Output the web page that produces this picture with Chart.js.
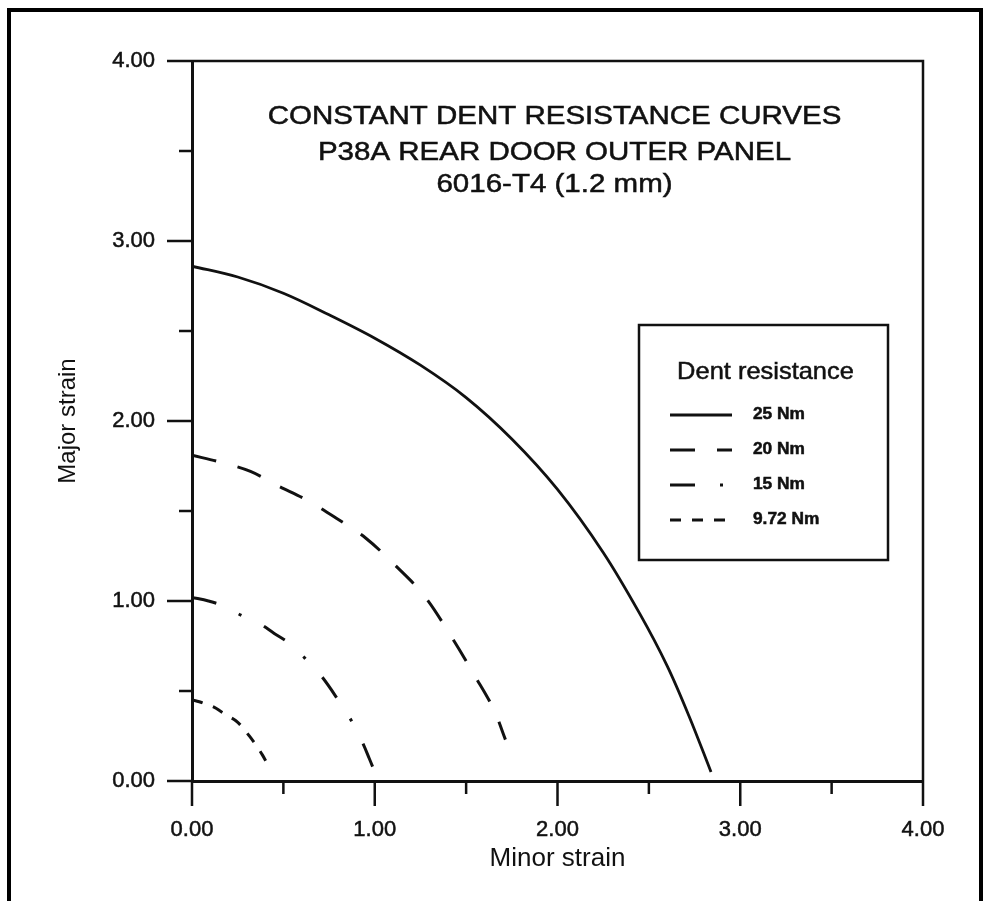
<!DOCTYPE html>
<html>
<head>
<meta charset="utf-8">
<script src="https://cdn.jsdelivr.net/npm/chart.js@4.4.1/dist/chart.umd.min.js"></script>
<style>
html, body { margin: 0; padding: 0; background: #fff; }
#wrap { position: relative; width: 992px; height: 901px; overflow: hidden; }
#frame { position: absolute; left: 7px; top: 8px; width: 968px; height: 940px; border: 4px solid #000; pointer-events: none; }
canvas { position: absolute; left: 0; top: 0; }
</style>
</head>
<body>
<div id="wrap">
  <canvas id="dentChart" width="992" height="901"></canvas>
  <div id="frame"></div>
</div>
<script>
// values (minor strain -> major strain)
var titleLines = ['CONSTANT DENT RESISTANCE CURVES', 'P38A REAR DOOR OUTER PANEL', '6016-T4 (1.2 mm)'];
var legendTitle = 'Dent resistance';
var seriesLabels = ['25 Nm', '20 Nm', '15 Nm', '9.72 Nm'];

var minor25 = [0, 0.25, 0.5, 0.75, 1.0, 1.25, 1.5, 1.75, 2.0, 2.25, 2.45, 2.6, 2.72, 2.84];
var major25 = [2.86, 2.80, 2.71, 2.59, 2.46, 2.31, 2.13, 1.90, 1.62, 1.27, 0.93, 0.64, 0.36, 0.05];

var minor20 = [0, 0.16, 0.32, 0.47, 0.63, 0.79, 0.95, 1.11, 1.27, 1.42, 1.55, 1.65, 1.715];
var major20 = [1.81, 1.77, 1.72, 1.64, 1.56, 1.46, 1.35, 1.20, 1.03, 0.80, 0.58, 0.40, 0.23];

var minor15 = [0, 0.09, 0.18, 0.27, 0.36, 0.45, 0.54, 0.62, 0.71, 0.80, 0.875, 0.93, 0.97, 1.0];
var major15 = [1.02, 1.0, 0.97, 0.92, 0.88, 0.82, 0.76, 0.68, 0.58, 0.45, 0.33, 0.22, 0.125, 0.05];

var minor9 = [0, 0.04, 0.08, 0.12, 0.16, 0.20, 0.24, 0.275, 0.31, 0.35, 0.385, 0.41];
var major9 = [0.45, 0.44, 0.425, 0.41, 0.385, 0.36, 0.335, 0.30, 0.255, 0.20, 0.145, 0.10];

var axisMin = 0, axisMax = 4, majorStep = 1, minorStep = 0.5;

function pts(xs, ys) {
    return xs.map(function (x, i) { return { x: x, y: ys[i] }; });
}

var ink = '#111';
var sansFont = "'Liberation Sans', Arial, Helvetica, sans-serif";

// scanned lettering is a bit wider and heavier than a clean font
function stretchText(ctx, text, x, y, sx, align) {
    ctx.save();
    ctx.translate(x, y);
    ctx.scale(sx, 1);
    ctx.textAlign = align;
    ctx.lineWidth = 0.5;
    ctx.fillText(text, 0, 0);
    ctx.strokeText(text, 0, 0);
    ctx.restore();
}

var decorPlugin = {
    id: 'decor',
    afterDraw: function (chart) {
        var ctx = chart.ctx;
        var a = chart.chartArea;
        var xs = chart.scales.x, ys = chart.scales.y;
        ctx.save();
        ctx.strokeStyle = ink;
        ctx.fillStyle = ink;

        // top and right edges of the plot box
        ctx.lineWidth = 2.5;
        ctx.beginPath();
        ctx.moveTo(a.left, a.top);
        ctx.lineTo(a.right, a.top);
        ctx.lineTo(a.right, a.bottom);
        ctx.stroke();

        // outside ticks, long on whole units, short on halves
        for (var v = axisMin; v <= axisMax + 1e-9; v += minorStep) {
            var isMajor = Math.abs(v / majorStep - Math.round(v / majorStep)) < 1e-9;
            var len = isMajor ? 25 : 13;
            var px = xs.getPixelForValue(v);
            var py = ys.getPixelForValue(v);
            ctx.beginPath();
            ctx.moveTo(px, a.bottom);
            ctx.lineTo(px, a.bottom + len);
            ctx.moveTo(a.left, py);
            ctx.lineTo(a.left - len, py);
            ctx.stroke();
        }

        // title block inside the plot
        var cx = (a.left + a.right) / 2 - 3;
        ctx.font = '25px ' + sansFont;
        ctx.textBaseline = 'middle';
        stretchText(ctx, titleLines[0], cx, a.top + 56, 1.18, 'center');
        stretchText(ctx, titleLines[1], cx, a.top + 92, 1.18, 'center');
        stretchText(ctx, titleLines[2], cx, a.top + 124, 1.18, 'center');

        // legend box
        var bx = a.left + 447, by = a.top + 264, bw = 249, bh = 235;
        ctx.lineWidth = 2.5;
        ctx.strokeRect(bx, by, bw, bh);
        ctx.font = '24px ' + sansFont;
        stretchText(ctx, legendTitle, bx + bw / 2 + 2, by + 47, 1.06, 'center');
        ctx.font = 'bold 16px ' + sansFont;
        chart.data.datasets.forEach(function (ds, i) {
            var ly = by + 90 + i * 35;
            ctx.save();
            ctx.lineWidth = 2.8;
            ctx.setLineDash(ds.borderDash || []);
            ctx.beginPath();
            ctx.moveTo(bx + 31, ly);
            ctx.lineTo(bx + 93, ly);
            ctx.stroke();
            ctx.restore();
            stretchText(ctx, ds.label, bx + 114, ly, 1.08, 'left');
        });
        ctx.restore();
    }
};

var tickFont = { family: sansFont, size: 22 };

new Chart(document.getElementById('dentChart'), {
    type: 'scatter',
    data: {
        datasets: [
            { label: seriesLabels[0], data: pts(minor25, major25), borderDash: [], borderWidth: 2.8 },
            { label: seriesLabels[1], data: pts(minor20, major20), borderDash: [25, 22], borderWidth: 3 },
            { label: seriesLabels[2], data: pts(minor15, major15), borderDash: [25, 25, 3, 25], borderWidth: 3 },
            { label: seriesLabels[3], data: pts(minor9, major9), borderDash: [11, 11], borderWidth: 3 }
        ].map(function (ds) {
            ds.showLine = true;
            ds.pointRadius = 0;
            ds.borderColor = ink;
            ds.backgroundColor = ink;
            ds.tension = 0.35;
            return ds;
        })
    },
    options: {
        responsive: false,
        animation: false,
        devicePixelRatio: 1,
        layout: { padding: { top: 61, right: 69, left: 0, bottom: 0 } },
        plugins: { legend: { display: false }, tooltip: { enabled: false } },
        scales: {
            x: {
                type: 'linear',
                position: 'bottom',
                min: axisMin,
                max: axisMax,
                grid: { display: false, drawTicks: false },
                border: { display: true, width: 3, color: ink },
                ticks: { stepSize: majorStep, padding: 36, color: ink, font: tickFont, maxRotation: 0,
                    textStrokeColor: ink, textStrokeWidth: 0.5,
                    callback: function (v) { return v.toFixed(2); } },
                title: { display: true, text: 'Minor strain', color: ink, font: { family: sansFont, size: 26 }, padding: { top: 0, bottom: 27 } },
                afterFit: function (s) { s.height = 120; }
            },
            y: {
                type: 'linear',
                position: 'left',
                min: axisMin,
                max: axisMax,
                grid: { display: false, drawTicks: false },
                border: { display: true, width: 3, color: ink },
                ticks: { stepSize: majorStep, padding: 37, color: ink, font: tickFont,
                    textStrokeColor: ink, textStrokeWidth: 0.5,
                    callback: function (v) { return v.toFixed(2); } },
                title: { display: true, text: 'Major strain', color: ink, font: { family: sansFont, size: 24 }, padding: { top: 54, bottom: 0 } },
                afterFit: function (s) { s.width = 192; }
            }
        }
    },
    plugins: [decorPlugin]
});
</script>
</body>
</html>
